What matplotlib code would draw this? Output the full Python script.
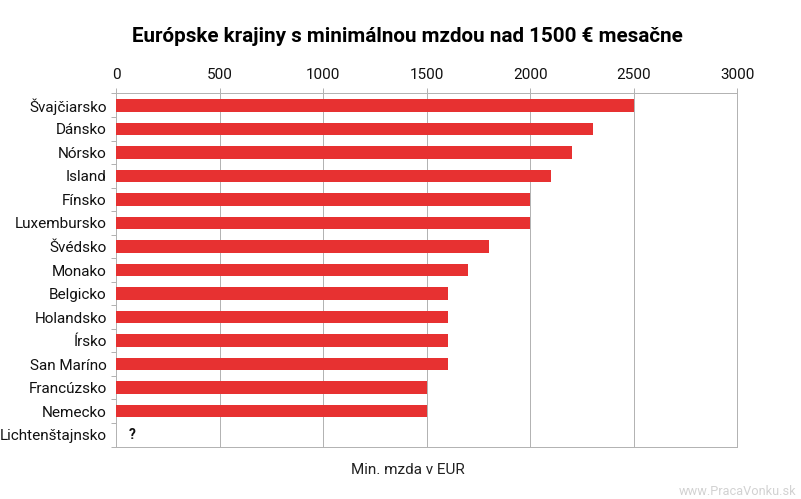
import numpy as np
import matplotlib
matplotlib.use("Agg")
import matplotlib.pyplot as plt

countries = ["Švajčiarsko", "Dánsko", "Nórsko", "Island", "Fínsko", "Luxembursko", "Švédsko",
             "Monako", "Belgicko", "Holandsko", "Írsko", "San Maríno", "Francúzsko", "Nemecko",
             "Lichtenštajnsko"]
wages = [2500, 2300, 2200, 2100, 2000, 2000, 1800, 1700, 1600, 1600, 1600, 1600, 1500, 1500, 0]
xticks = [0, 500, 1000, 1500, 2000, 2500, 3000]
title = "Európske krajiny s minimálnou mzdou nad 1500 € mesačne"
xlabel = "Min. mzda v EUR"
unknown = "?"
watermark = "www.PracaVonku.sk"

W, H = 801, 499
GRID = "#b3b3b3"
LW = 0.72
plt.rcParams["font.family"] = ["Roboto", "DejaVu Sans"]
fig = plt.figure(figsize=(W / 100, H / 100), dpi=100, facecolor="white")
ax = fig.add_axes([116.4 / W, 1 - 446.5 / H, 621 / W, 353 / H])

y = np.arange(len(countries))
ax.barh(y, wages, height=0.53, color="#e73131", zorder=3)
ax.set_ylim(len(countries) - 0.5, -0.5)
ax.set_xlim(0, 3000)
ax.xaxis.tick_top()
ax.set_xticks(xticks)
ax.set_xticklabels([str(t) for t in xticks], fontsize=11, color="#111111")
ax.tick_params(axis="x", length=3.6, width=LW, color=GRID, pad=4.5)
ax.set_yticks(y)
ax.set_yticklabels(countries, fontsize=11, color="#111111")
ax.tick_params(axis="y", which="major", length=0, pad=7)
ax.set_yticks(np.arange(len(countries) + 1) - 0.5, minor=True)
ax.tick_params(axis="y", which="minor", length=3.6, width=LW, color=GRID)
ax.grid(axis="x", color=GRID, lw=LW, zorder=1)
for s in ax.spines.values():
    s.set_color(GRID)
    s.set_linewidth(LW)
ax.text(75, 14, unknown, ha="center", va="center", fontsize=10, fontweight="bold", color="#111111", zorder=4)

fig.text(407 / W, 1 - 36.5 / H, title, ha="center", va="center", fontsize=14.9, fontweight="bold", color="black")
fig.text(407.5 / W, 1 - 470.5 / H, xlabel, ha="center", va="center", fontsize=11, color="#222222")
fig.text(796 / W, 1 - 491.5 / H, watermark, ha="right", va="center", fontsize=9.2, color="#d2d2d2")

fig.savefig("out.png", dpi=100)
